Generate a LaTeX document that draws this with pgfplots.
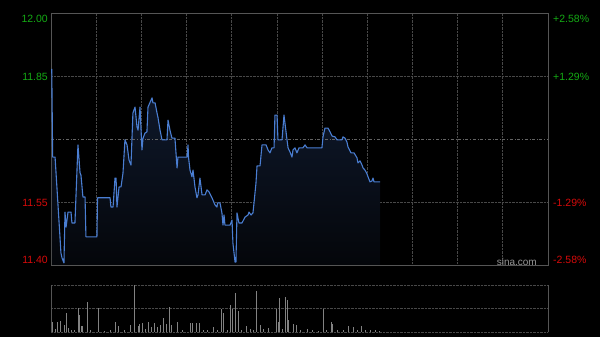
\documentclass[border=0pt]{standalone}
\usepackage{fontspec}
\setmainfont{Liberation Sans}
\usepackage{pgfplots}
\usepackage{pgfplotstable}
\pgfplotsset{compat=1.18}
\definecolor{framec}{RGB}{85,85,85}
\definecolor{gridc}{RGB}{72,72,72}
\definecolor{midc}{RGB}{100,100,100}
\definecolor{linec}{RGB}{74,126,210}
\definecolor{upc}{RGB}{20,170,20}
\definecolor{dnc}{RGB}{215,10,10}
\definecolor{filltop}{RGB}{16,27,48}
\definecolor{fillbot}{RGB}{4,6,10}
\definecolor{volc}{RGB}{130,130,130}
\definecolor{sinac}{RGB}{150,150,150}

\pgfplotstableread{
m p
0.5 11.867
1.1 11.657
2.7 11.657
6.6 11.429
7.3 11.417
8.6 11.405
9.3 11.526
10.0 11.490
11.3 11.526
13.3 11.526
13.9 11.500
15.9 11.500
17.9 11.686
19.3 11.619
19.9 11.614
21.2 11.562
22.6 11.562
23.2 11.467
30.5 11.467
30.9 11.560
39.2 11.560
39.8 11.538
41.2 11.538
42.5 11.607
43.2 11.607
43.8 11.538
45.2 11.586
46.5 11.586
47.8 11.619
49.1 11.698
50.5 11.686
51.8 11.650
53.1 11.638
54.4 11.762
55.8 11.776
57.1 11.729
57.8 11.721
59.1 11.776
60.4 11.674
61.1 11.702
62.4 11.714
63.7 11.717
64.4 11.776
67.1 11.798
67.7 11.786
69.1 11.786
70.4 11.762
71.0 11.752
72.4 11.721
73.7 11.698
77.0 11.698
77.7 11.745
79.0 11.721
80.3 11.702
82.3 11.702
83.7 11.631
84.3 11.657
90.3 11.657
91.0 11.686
91.3 11.657
92.3 11.626
93.6 11.610
94.3 11.626
95.6 11.586
96.9 11.560
97.6 11.567
98.9 11.607
100.3 11.567
102.3 11.567
103.6 11.579
104.9 11.574
106.9 11.560
108.9 11.543
110.2 11.538
110.6 11.548
112.2 11.548
113.5 11.524
114.2 11.495
114.9 11.519
115.5 11.495
118.9 11.495
120.2 11.507
120.8 11.452
122.2 11.407
122.8 11.407
123.5 11.524
124.8 11.500
126.8 11.500
128.8 11.514
130.8 11.519
131.5 11.526
132.8 11.519
134.1 11.524
134.8 11.548
136.1 11.595
136.8 11.636
138.8 11.636
140.1 11.686
142.8 11.686
144.1 11.674
145.4 11.667
146.7 11.679
148.1 11.679
148.7 11.757
150.1 11.757
150.7 11.698
153.4 11.698
154.7 11.757
156.7 11.698
157.4 11.679
158.7 11.669
160.0 11.657
160.7 11.674
162.0 11.679
163.3 11.667
164.7 11.679
167.3 11.679
168.7 11.686
170.0 11.679
179.9 11.679
180.6 11.705
181.9 11.726
183.9 11.726
185.3 11.717
186.6 11.707
188.6 11.705
189.9 11.698
193.2 11.698
193.9 11.705
195.2 11.702
196.5 11.693
197.2 11.681
199.2 11.667
201.2 11.667
203.2 11.655
203.8 11.643
205.2 11.648
206.5 11.638
207.2 11.631
208.5 11.626
209.8 11.617
210.5 11.610
211.8 11.598
213.1 11.600
213.8 11.607
214.5 11.598
218.5 11.598
}\price

\pgfplotstableread{
m v
0.7 10
2.7 3
4.6 10
6.6 11
8.6 7
10.0 19
11.3 4
13.3 2
15.3 2
17.9 24
18.6 17
19.9 6
21.2 6
23.9 30
25.9 2
31.2 24
35.2 1
39.8 2
42.5 10
44.5 6
48.5 2
52.5 7
55.1 47
57.8 6
58.4 8
60.4 9
62.4 3
64.4 10
66.4 5
68.4 9
70.4 5
72.4 7
74.4 14
76.4 8
78.4 25
79.7 7
83.7 10
87.6 2
92.3 9
93.6 9
96.9 9
98.3 9
100.9 2
104.2 2
107.6 5
110.2 2
113.5 23
114.2 19
116.9 2
118.9 27
120.2 23
122.8 39
124.2 21
126.2 2
129.5 6
132.1 3
134.1 2
136.1 41
139.4 7
140.8 3
144.1 4
149.4 23
150.7 10
151.4 34
153.4 3
155.4 35
156.7 32
157.4 12
160.7 8
162.7 7
165.3 2
170.0 3
173.3 2
177.3 1
180.6 23
182.6 2
185.9 10
187.2 8
189.9 2
193.9 2
197.2 6
200.5 5
203.2 2
205.8 6
208.5 2
211.8 2
215.1 2
217.8 1
}\vol

\begin{document}
\begin{tikzpicture}
\fill[black] (0pt,0pt) rectangle (600pt,337pt);
\begin{axis}[at={(51pt,72pt)}, anchor=south west, width=497pt, height=252pt,
  scale only axis, xmin=0, xmax=330, ymin=11.40, ymax=12.00,
  axis line style={framec, line width=0.9pt},
  xtick={30,60,...,300}, xticklabels={},
  ytick={11.55,11.85}, yticklabels={},
  grid=major, major grid style={gridc, densely dotted, line width=0.8pt},
  major tick length=0pt]
\addplot[draw=none, top color=filltop, bottom color=fillbot] table[x=m, y=p] {\price} -- (axis cs:218.5,11.40) -- (axis cs:0.5,11.40) -- cycle;
\addplot[midc, dash dot, line width=0.8pt] coordinates {(0,11.70) (330,11.70)};
\addplot[linec, line width=1.1pt, line join=round] table[x=m, y=p] {\price};
\end{axis}
\begin{axis}[at={(51pt,5pt)}, anchor=south west, width=497pt, height=47pt,
  scale only axis, xmin=0, xmax=330, ymin=0, ymax=47,
  axis line style={draw=none},
  xtick=\empty, ytick={0,23.5,47}, yticklabels={},
  ymajorgrids, major grid style={gridc, densely dotted, line width=0.8pt},
  major tick length=0pt]
\addplot[ycomb, volc, line width=0.9pt] table[x=m, y=v] {\vol};
\end{axis}
\draw[framec, line width=0.9pt] (51pt,5pt) -- (51pt,52pt);
\draw[framec, line width=0.9pt] (548pt,5pt) -- (548pt,52pt);
\begin{scope}[every node/.style={inner sep=0pt, font=\fontsize{10.5}{12}\selectfont}]
\node[anchor=east, text=upc] at (48pt,318pt) {12.00};
\node[anchor=east, text=upc] at (48pt,260.5pt) {11.85};
\node[anchor=east, text=dnc] at (48pt,134.5pt) {11.55};
\node[anchor=east, text=dnc] at (48pt,77pt) {11.40};
\node[anchor=west, text=upc] at (553pt,318pt) {+2.58\%};
\node[anchor=west, text=upc] at (553pt,260.5pt) {+1.29\%};
\node[anchor=west, text=dnc] at (553pt,134pt) {-1.29\%};
\node[anchor=west, text=dnc] at (553pt,77pt) {-2.58\%};
\node[anchor=east, text=sinac, font=\fontsize{10}{12}\selectfont] at (537pt,75.5pt) {sina.com};
\end{scope}
\useasboundingbox (0pt,0pt) rectangle (600pt,337pt);
\end{tikzpicture}
\end{document}
